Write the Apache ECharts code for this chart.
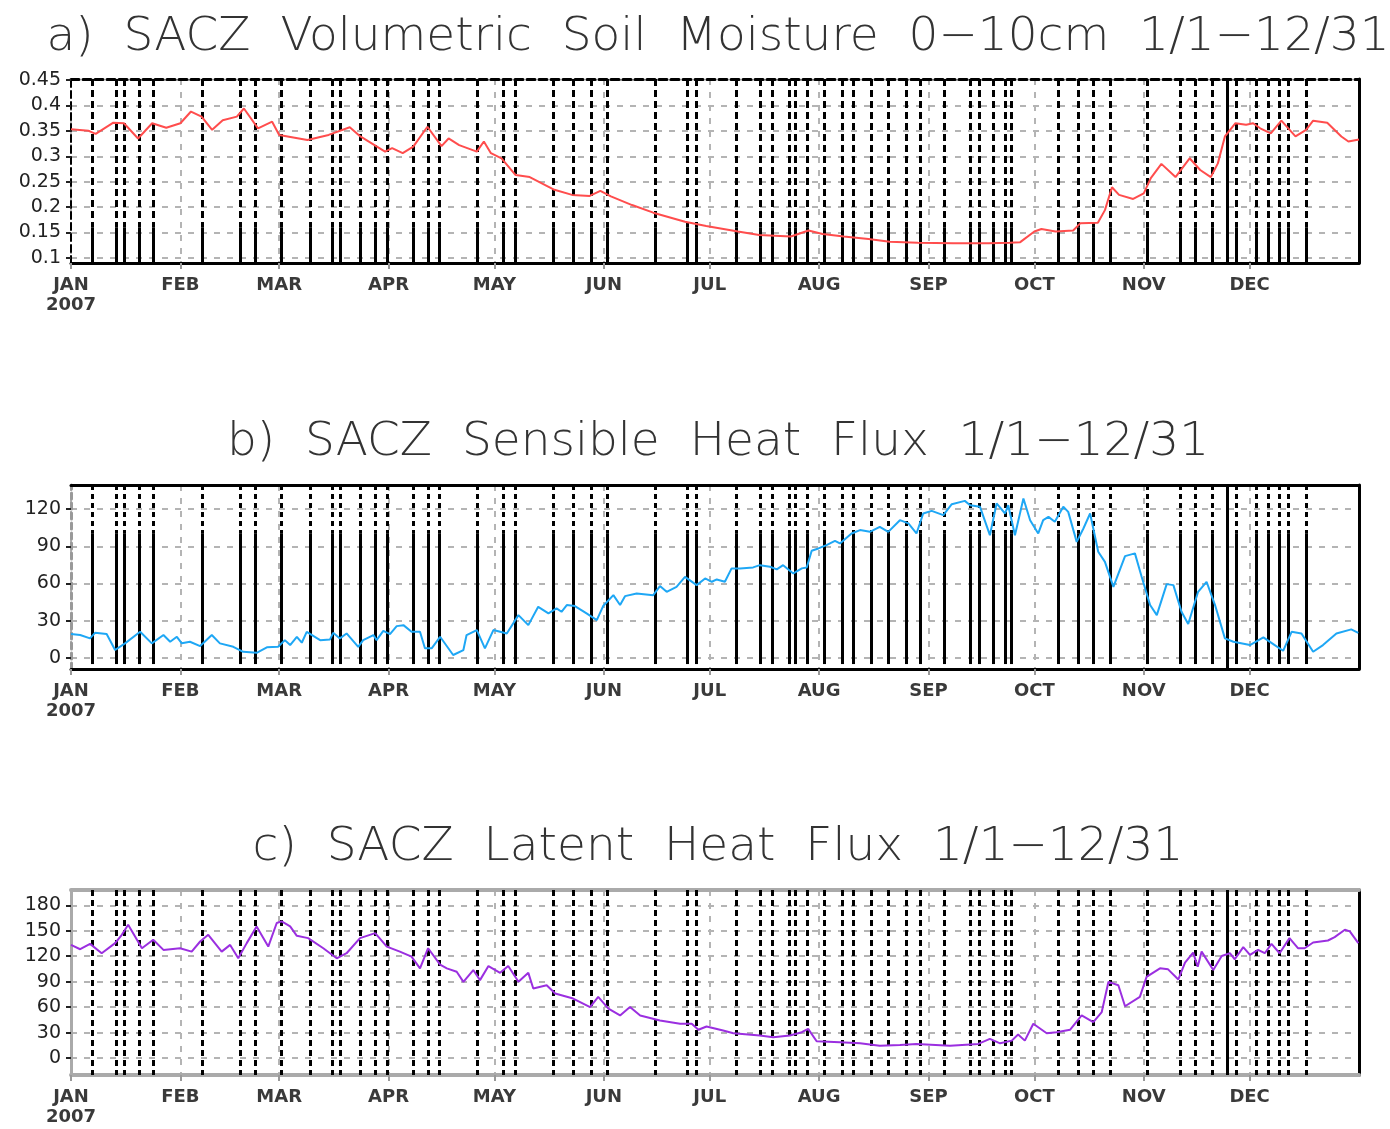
<!DOCTYPE html>
<html>
<head>
<meta charset="utf-8">
<script src="https://cdn.jsdelivr.net/npm/echarts@6/dist/echarts.min.js"></script>
<style>html,body{margin:0;padding:0;background:#fff}#chart{width:1390px;height:1129px}</style>
</head>
<body>
<div id="chart"></div>
<script>
// ---------- data (day of year 2007, 0 = Jan 1) ----------
const monthStarts = [0, 31, 59, 90, 120, 151, 181, 212, 243, 273, 304, 334];
const monthLabels = ['JAN\n2007', 'FEB', 'MAR', 'APR', 'MAY', 'JUN', 'JUL', 'AUG', 'SEP', 'OCT', 'NOV', 'DEC'];

const titles = [
  'a)  SACZ  Volumetric  Soil  Moisture  0−10cm  1/1−12/31',
  'b)  SACZ  Sensible  Heat  Flux  1/1−12/31',
  'c)  SACZ  Latent  Heat  Flux  1/1−12/31'
];

// event marker days (vertical black lines)
const eventDays = [5.9, 12.7, 15.1, 19.2, 23.3, 37.1, 48.1, 52.3, 59.5, 67.9, 73.9, 76.2, 81.9, 86.2, 89.5,
  97.0, 101.1, 104.4, 115.0, 122.5, 125.8, 136.7, 142.3, 147.5, 152.1, 165.5, 174.6, 177.1, 188.6, 195.4,
  198.7, 203.5, 205.1, 208.6, 213.5, 218.6, 221.7, 226.9, 231.6, 236.6, 240.8, 247.5, 254.9, 257.4, 261.3,
  264.7, 266.4, 279.8, 285.4, 289.7, 294.6, 305.0, 314.3, 318.6, 323.4, 330.1, 335.8, 339.3, 342.4, 344.9, 350.1];
const solidEventDays = [327.7];

// a) volumetric soil moisture 0-10cm
const soilDays = [0, 5, 7, 12, 15, 19, 23, 27, 31, 34, 37, 40, 43, 47, 49, 53, 57, 59, 67, 73, 79, 82, 89, 91, 94, 97,
  101, 105, 107, 110, 115, 117, 119, 122, 126, 130, 137, 142, 147, 150, 153, 159, 165, 174, 180, 189, 195, 204,
  209, 213, 219, 226, 232, 240, 250, 260, 266, 269, 273, 275, 279, 284, 286, 291, 293, 295, 297, 301, 304, 306,
  309, 313, 317, 320, 323, 325, 327, 330, 333, 335, 337, 340, 343, 347, 350, 352, 356, 360, 362, 365];
const soilValues = [0.353, 0.350, 0.344, 0.366, 0.365, 0.335, 0.365, 0.356, 0.365, 0.388, 0.378, 0.352, 0.371, 0.378,
  0.394, 0.355, 0.368, 0.342, 0.332, 0.342, 0.357, 0.339, 0.309, 0.316, 0.306, 0.319, 0.358, 0.320, 0.335, 0.322,
  0.309, 0.329, 0.306, 0.296, 0.263, 0.259, 0.234, 0.224, 0.222, 0.232, 0.221, 0.204, 0.189, 0.171, 0.163, 0.152,
  0.145, 0.142, 0.154, 0.147, 0.142, 0.137, 0.132, 0.130, 0.129, 0.129, 0.130, 0.131, 0.152, 0.157, 0.152, 0.154,
  0.168, 0.169, 0.194, 0.239, 0.224, 0.216, 0.227, 0.257, 0.285, 0.259, 0.296, 0.273, 0.259, 0.286, 0.339, 0.365,
  0.362, 0.365, 0.355, 0.345, 0.370, 0.339, 0.352, 0.370, 0.366, 0.339, 0.329, 0.333];
const soilTicks = [0.1, 0.15, 0.2, 0.25, 0.3, 0.35, 0.4, 0.45];

// b) sensible heat flux
const shDays = [0, 2.6, 5.4, 6.8, 10.1, 12.5, 15.3, 19.6, 22.9, 26.2, 28.1, 30.0, 31.4, 33.7, 36.6, 39.9, 42.2, 46.0,
  48.8, 52.6, 55.5, 58.7, 60.6, 62.1, 64.0, 65.4, 66.8, 70.6, 73.4, 74.3, 76.2, 78.1, 81.4, 82.8, 85.7, 86.6, 88.5,
  90.4, 92.3, 94.2, 96.5, 98.9, 100.3, 102.2, 104.6, 108.3, 111.2, 112.1, 115.0, 117.3, 119.7, 123.5, 126.8, 129.6,
  132.4, 135.3, 137.6, 139.0, 140.5, 142.8, 146.1, 149.0, 150.8, 153.7, 155.6, 157.0, 160.3, 165.0, 166.9, 168.8,
  171.6, 174.0, 177.3, 179.7, 181.6, 183.0, 185.3, 187.2, 189.6, 193.3, 195.2, 198.1, 200.0, 201.8, 204.7, 207.1,
  208.5, 209.9, 211.8, 214.1, 216.5, 217.9, 221.2, 223.6, 226.4, 229.2, 231.6, 234.9, 237.3, 239.6, 241.5, 243.9,
  247.2, 249.6, 253.3, 254.8, 257.6, 260.4, 262.3, 264.7, 265.6, 267.5, 269.9, 271.8, 274.1, 275.5, 277.0, 278.8,
  281.2, 282.6, 285.0, 286.9, 288.8, 291.1, 293.0, 295.4, 298.7, 301.5, 303.4, 305.8, 307.7, 310.5, 312.4, 314.7,
  316.6, 319.4, 321.8, 324.2, 327.0, 329.4, 334.1, 337.9, 340.7, 343.5, 345.9, 348.7, 352.0, 354.8, 358.6, 362.8, 364.8];
const shValues = [19.2, 18.4, 15.7, 20.2, 19.2, 6.3, 11.7, 21.0, 11.7, 18.4, 13.0, 17.0, 11.7, 13.0, 9.5, 18.4, 11.7,
  8.9, 4.9, 4.1, 8.5, 8.9, 14.3, 10.3, 17.0, 12.2, 21.0, 14.3, 14.9, 20.2, 15.7, 19.7, 8.9, 14.3, 18.4, 14.3, 21.8,
  19.2, 25.6, 26.4, 21.0, 21.0, 7.7, 7.7, 17.0, 2.3, 6.3, 18.4, 22.4, 7.7, 22.4, 19.7, 34.5, 26.4, 41.2, 35.9, 39.9,
  37.2, 42.6, 41.8, 35.9, 30.5, 41.8, 50.6, 42.6, 49.8, 52.0, 50.6, 57.9, 53.3, 57.3, 65.4, 58.7, 64.1, 61.4, 63.3,
  61.4, 72.2, 72.2, 73.0, 74.8, 73.5, 71.4, 74.8, 68.1, 72.2, 73.0, 86.4, 88.3, 91.0, 94.4, 92.3, 100.4, 103.1,
  101.7, 105.7, 101.7, 111.1, 108.5, 100.4, 116.5, 118.6, 115.2, 124.0, 126.7, 123.2, 121.9, 99.0, 124.6, 116.5,
  123.2, 99.0, 128.6, 111.1, 100.4, 111.1, 113.8, 109.8, 121.9, 117.8, 93.6, 104.4, 116.5, 85.6, 77.5, 57.3, 82.1,
  84.3, 65.4, 42.6, 34.5, 59.5, 58.7, 37.2, 27.3, 53.3, 61.4, 42.6, 15.7, 13.0, 10.3, 16.5, 11.1, 5.7, 21.0, 19.7,
  4.9, 10.3, 19.7, 23.0, 20.2];
const shTicks = [0, 30, 60, 90, 120];

// c) latent heat flux
const lhDays = [0, 2.6, 5.4, 8.7, 12.5, 14.4, 16.2, 20.1, 23.3, 26.2, 30.9, 34.2, 36.6, 38.9, 42.7, 45.1, 47.4, 49.8,
  52.6, 55.9, 58.3, 59.7, 62.1, 64.0, 67.2, 71.5, 75.3, 78.1, 81.9, 86.2, 89.5, 93.2, 96.5, 98.9, 101.2, 104.6, 106.5,
  109.3, 111.2, 114.0, 115.9, 118.3, 121.6, 123.9, 126.8, 129.6, 131.0, 134.8, 137.2, 142.3, 147.1, 149.4, 152.3,
  155.6, 158.4, 161.3, 166.9, 172.6, 175.9, 177.8, 180.1, 184.8, 187.7, 195.2, 199.0, 203.7, 207.1, 208.9, 211.3,
  217.9, 223.6, 229.2, 234.9, 239.6, 249.1, 257.1, 260.4, 263.3, 266.6, 268.4, 270.3, 272.7, 276.5, 279.3, 283.1,
  286.4, 289.7, 292.1, 294.0, 296.8, 298.7, 302.9, 304.8, 308.6, 310.9, 313.8, 315.7, 318.0, 319.3, 320.4, 323.7,
  326.1, 328.4, 329.8, 332.2, 334.1, 336.4, 338.3, 340.2, 342.5, 345.3, 347.7, 349.6, 352.0, 356.2, 358.1, 361.0,
  362.4, 364.8];
const lhValues = [133.3, 128.2, 134.5, 123.5, 135.4, 145.2, 157.1, 129.4, 139.3, 127.4, 129.4, 125.4, 137.3, 145.2,
  125.4, 133.3, 117.5, 135.4, 155.1, 131.3, 159.1, 161.0, 155.1, 144.0, 141.3, 129.4, 117.5, 123.5, 141.3, 147.2,
  131.3, 125.4, 119.4, 105.7, 129.4, 110.0, 105.7, 101.6, 89.8, 103.7, 91.8, 108.4, 100.4, 108.4, 89.8, 100.4, 81.9,
  85.8, 76.0, 70.1, 60.1, 72.0, 58.2, 50.2, 60.1, 50.2, 44.3, 40.4, 40.4, 33.3, 37.2, 32.4, 29.2, 26.5, 24.5, 26.5,
  30.4, 34.4, 19.7, 18.5, 17.3, 14.6, 15.4, 16.6, 14.6, 16.6, 22.6, 17.3, 20.5, 27.7, 20.5, 40.4, 29.2, 30.4, 33.3,
  50.2, 42.3, 54.2, 89.8, 85.8, 61.0, 72.0, 95.7, 105.7, 104.5, 92.6, 112.3, 124.2, 107.6, 125.4, 103.7, 120.3,
  123.5, 116.4, 130.6, 121.5, 127.4, 123.5, 134.5, 123.5, 141.3, 129.4, 129.4, 136.1, 138.5, 142.5, 151.2, 149.2, 135.4];
const lhTicks = [0, 30, 60, 90, 120, 150, 180];

// ---------- chart ----------
const GRID_GREY = '#b4b4b4';
const panels = [
  { days: soilDays, vals: soilValues, ticks: soilTicks, min: 0.09, max: 0.452, color: '#ff4d4d',
    top: 79, height: 184, split: 0.16, lineEnd: 0.09, dash: [7, 4],
    borders: { top: { color: '#000', width: 3, type: [8, 4] }, bottom: { color: '#000', width: 3, type: 'solid' },
               left: { color: '#000', width: 2, type: [7, 4] }, right: { color: '#000', width: 3, type: 'solid' } } },
  { days: shDays, vals: shValues, ticks: shTicks, min: -9, max: 139.5, color: '#1ea7f5',
    top: 485, height: 184, split: 100.6, lineEnd: -5, dash: [5, 4],
    borders: { top: { color: '#000', width: 3, type: 'solid' }, bottom: { color: '#000', width: 3, type: 'solid' },
               left: { color: '#999', width: 3, type: [6, 4] }, right: { color: '#000', width: 3, type: 'solid' } } },
  { days: lhDays, vals: lhValues, ticks: lhTicks, min: -20, max: 198, color: '#9b2fe0',
    top: 890, height: 185, split: null, lineEnd: -20, dash: [6, 4],
    borders: { top: { color: '#aaa', width: 4, type: 'solid' }, bottom: { color: '#aaa', width: 4, type: 'solid' },
               left: { color: '#aaa', width: 3, type: 'solid' }, right: { color: '#000', width: 3, type: 'solid' } } }
];

const option = {
  animation: false,
  backgroundColor: '#fff',
  title: [],
  grid: [],
  xAxis: [],
  yAxis: [],
  series: []
};
const titleTops = [9, 414, 819];

panels.forEach((p, i) => {
  option.title.push({
    text: titles[i], left: 713, top: titleTops[i], textAlign: 'center',
    textStyle: { fontFamily: 'DejaVu Sans', fontWeight: 200, fontSize: 47, color: '#333' }
  });
  option.grid.push({ left: 71, width: 1288, top: p.top, height: p.height, containLabel: false });

  // bottom x axis (with month labels)
  option.xAxis.push({
    type: 'value', gridIndex: i, min: 0, max: 365, position: 'bottom',
    axisLine: { show: true, onZero: false, lineStyle: p.borders.bottom },
    axisTick: { show: true, customValues: monthStarts, length: 6, lineStyle: { color: '#999', width: 2 } },
    axisLabel: {
      customValues: monthStarts, margin: 12, fontFamily: 'DejaVu Sans', fontWeight: 'bold', fontSize: 18,
      color: '#3a3a3a', lineHeight: 20,
      formatter: v => monthLabels[monthStarts.indexOf(v)] || ''
    },
    splitLine: { show: true, lineStyle: { color: GRID_GREY, type: [6, 7], width: 2 } }
  });
  // top x axis (border only)
  option.xAxis.push({
    type: 'value', gridIndex: i, min: 0, max: 365, position: 'top',
    axisLine: { show: true, onZero: false, lineStyle: p.borders.top },
    axisTick: { show: false }, axisLabel: { show: false }, splitLine: { show: false }
  });
  // left y axis
  option.yAxis.push({
    type: 'value', gridIndex: i, min: p.min, max: p.max, position: 'left',
    axisLine: { show: true, onZero: false, lineStyle: p.borders.left },
    axisTick: { show: true, customValues: p.ticks, length: 5, lineStyle: { color: '#222', width: 2 } },
    axisLabel: { customValues: p.ticks, margin: 10, fontFamily: 'DejaVu Sans', fontSize: 19, color: '#222',
                 formatter: v => String(v) },
    splitLine: { show: true, lineStyle: { color: GRID_GREY, type: [6, 7], width: 2 } }
  });
  // right y axis (border only)
  option.yAxis.push({
    type: 'value', gridIndex: i, min: p.min, max: p.max, position: 'right',
    axisLine: { show: true, onZero: false, lineStyle: p.borders.right },
    axisTick: { show: false }, axisLabel: { show: false }, splitLine: { show: false }
  });

  // event marker lines
  const mlData = [];
  eventDays.forEach(d => {
    if (p.split === null) {
      mlData.push([{ coord: [d, p.max], lineStyle: { type: p.dash, width: 3, color: '#000' } }, { coord: [d, p.lineEnd] }]);
    } else {
      mlData.push([{ coord: [d, p.max], lineStyle: { type: p.dash, width: 3, color: '#000' } }, { coord: [d, p.split] }]);
      mlData.push([{ coord: [d, p.split], lineStyle: { type: 'solid', width: 3, color: '#000' } }, { coord: [d, p.lineEnd] }]);
    }
  });
  solidEventDays.forEach(d => {
    mlData.push([{ coord: [d, p.max], lineStyle: { type: 'solid', width: 3, color: '#000' } }, { coord: [d, p.min] }]);
  });

  option.series.push({
    type: 'line', xAxisIndex: 2 * i, yAxisIndex: 2 * i,
    data: p.days.map((d, k) => [d, p.vals[k]]),
    showSymbol: false, symbol: 'none', silent: true, z: 5,
    lineStyle: { color: p.color, width: 2 },
    markLine: { silent: true, symbol: ['none', 'none'], label: { show: false }, data: mlData }
  });
});

const chart = echarts.init(document.getElementById('chart'), null, { renderer: 'canvas' });
chart.setOption(option);
</script>
</body>
</html>
